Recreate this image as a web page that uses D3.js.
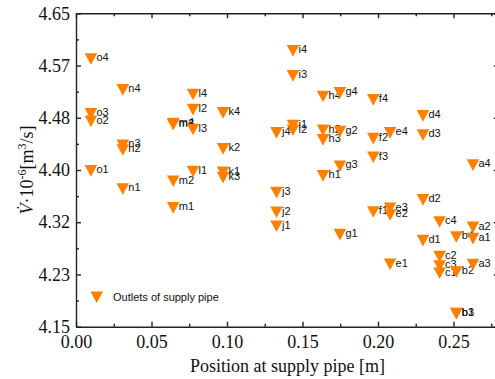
<!DOCTYPE html>
<html>
<head>
<meta charset="utf-8">
<script src="https://cdn.jsdelivr.net/npm/d3@7"></script>
<style>
  html, body { margin: 0; padding: 0; background: #fff; }
  svg { display: block; }
  .axis path, .axis line { stroke: #222; stroke-width: 1.4; }
  .axis text { font-family: "Liberation Serif", "Times New Roman", serif; font-size: 18px; fill: #111; }
  .axis-title { font-family: "Liberation Serif", "Times New Roman", serif; font-size: 18px; fill: #111; }
  .pt-label, .legend text { font-family: "Liberation Sans", Arial, sans-serif; font-size: 11px; fill: #111; }
</style>
</head>
<body>
<div id="chart"></div>
<script>
// ---- Data: one column per supply-pipe position (a..o), outlets 1..4
const pipeIds   = ['a', 'b', 'c', 'd', 'e', 'f', 'g', 'h', 'i', 'j', 'k', 'l', 'm', 'n', 'o'];
const pipePos   = [0.2629, 0.2519, 0.2408, 0.2298, 0.2080, 0.1969, 0.1748, 0.1636, 0.1437, 0.1328, 0.0974, 0.0775, 0.0644, 0.0310, 0.0099];
const outlet1   = [4.2905, 4.1708, 4.2352, 4.2873, 4.2496, 4.3331, 4.2969, 4.3906, 4.4709, 4.3103, 4.3965, 4.3976, 4.3395, 4.3698, 4.3986];
const outlet2   = [4.3087, 4.2373, 4.2618, 4.3523, 4.3283, 4.4501, 4.4613, 4.4635, 4.4635, 4.3326, 4.4337, 4.4964, 4.3821, 4.4320, 4.4776];
const outlet3   = [4.2490, 4.1708, 4.2469, 4.4556, 4.3390, 4.4204, 4.4061, 4.4480, 4.5502, 4.3639, 4.3879, 4.4645, 4.4721, 4.4396, 4.4896];
const outlet4   = [4.4077, 4.2932, 4.3171, 4.4864, 4.4592, 4.5119, 4.5231, 4.5172, 4.5901, 4.4592, 4.4911, 4.5204, 4.4741, 4.5279, 4.5770];

const xTickValues = [0, 0.05, 0.10, 0.15, 0.20, 0.25];
const xMinorTicks = [0.025, 0.075, 0.125, 0.175, 0.225, 0.275];
const yTickLabels = ['4.15', '4.23', '4.32', '4.40', '4.48', '4.57', '4.65'];
const legendLabel = 'Outlets of supply pipe';

const width = 495, height = 379;
const plot = { left: 76, right: 498.8, top: 13.3, bottom: 326.7 };

const svg = d3.select('#chart').append('svg')
    .attr('width', width).attr('height', height);

// ---- Scales
const x = d3.scaleLinear().domain([0, 0.28]).range([plot.left, plot.right]);
const y = d3.scaleLinear().domain([4.15, 4.65]).range([plot.bottom, plot.top]);

const yTickValues = yTickLabels.map((_, i) => 4.15 + i * 0.5 / 6);
const yMinorTicks = yTickValues.slice(1).map((v, i) => (v + yTickValues[i]) / 2);

// ---- Axes (ticks point inward)
const gxB = svg.append('g').attr('class', 'axis')
    .attr('transform', `translate(0,${plot.bottom})`)
    .call(d3.axisBottom(x).tickValues(xTickValues).tickFormat(d3.format('.2f'))
        .tickSizeInner(-5).tickSizeOuter(0).tickPadding(8.3));
svg.append('g').attr('class', 'axis')
    .attr('transform', `translate(0,${plot.bottom})`)
    .call(d3.axisBottom(x).tickValues(xMinorTicks).tickFormat('').tickSizeInner(-3).tickSizeOuter(0))
    .select('.domain').remove();

svg.append('g').attr('class', 'axis')
    .attr('transform', `translate(0,${plot.top})`)
    .call(d3.axisTop(x).tickValues(xTickValues).tickFormat('').tickSizeInner(-5).tickSizeOuter(0));
svg.append('g').attr('class', 'axis')
    .attr('transform', `translate(0,${plot.top})`)
    .call(d3.axisTop(x).tickValues(xMinorTicks).tickFormat('').tickSizeInner(-3).tickSizeOuter(0))
    .select('.domain').remove();

svg.append('g').attr('class', 'axis')
    .attr('transform', `translate(${plot.left},0)`)
    .call(d3.axisLeft(y).tickValues(yTickValues).tickFormat((d, i) => yTickLabels[i])
        .tickSizeInner(-5).tickSizeOuter(0).tickPadding(6));
svg.append('g').attr('class', 'axis')
    .attr('transform', `translate(${plot.left},0)`)
    .call(d3.axisLeft(y).tickValues(yMinorTicks).tickFormat('').tickSizeInner(-3).tickSizeOuter(0))
    .select('.domain').remove();

svg.append('g').attr('class', 'axis')
    .attr('transform', `translate(${plot.right},0)`)
    .call(d3.axisRight(y).tickValues(yTickValues).tickFormat('').tickSizeInner(-5).tickSizeOuter(0));

// ---- Axis titles
svg.append('text').attr('class', 'axis-title')
    .attr('x', (plot.left + plot.right) / 2).attr('y', 372)
    .attr('text-anchor', 'middle')
    .text('Position at supply pipe [m]');

const yTitle = svg.append('text').attr('class', 'axis-title')
    .attr('transform', `translate(33,${(plot.top + plot.bottom) / 2}) rotate(-90)`)
    .attr('text-anchor', 'middle');
yTitle.append('tspan').style('font-style', 'italic').text('V\u0307');
yTitle.append('tspan').text('\u00b710');
yTitle.append('tspan').attr('dy', -7).style('font-size', '12px').text('-6');
yTitle.append('tspan').attr('dy', 7).text('[m');
yTitle.append('tspan').attr('dy', -7).style('font-size', '12px').text('3');
yTitle.append('tspan').attr('dy', 7).text('/s]');

// ---- Marker: downward triangle centred on its box
const markColor = '#ff8000';
function triDown(w, h) {
    const p = d3.path();
    p.moveTo(-w / 2, -h / 2); p.lineTo(w / 2, -h / 2); p.lineTo(0, h / 2); p.closePath();
    return p.toString();
}
const marker = triDown(12.6, 11.6);

// ---- Points (drawn o -> a, each marker followed by its label)
const outlets = [outlet1, outlet2, outlet3, outlet4];
const points = [];
for (let i = pipeIds.length - 1; i >= 0; i--) {
    outlets.forEach((arr, k) => points.push({ id: pipeIds[i] + (k + 1), px: pipePos[i], v: arr[i] }));
}

const pg = svg.append('g').selectAll('g').data(points).join('g')
    .attr('transform', d => `translate(${x(d.px)},${y(d.v)})`);
pg.append('path').attr('d', marker).attr('fill', markColor);
pg.append('text').attr('class', 'pt-label')
    .attr('x', 5.5).attr('y', 2.3)
    .text(d => d.id);

// ---- Legend
const lg = svg.append('g').attr('class', 'legend').attr('transform', 'translate(96.7,297.3)');
lg.append('path').attr('d', marker).attr('fill', markColor);
lg.append('text').attr('x', 16.3).attr('y', 3.6).text(legendLabel);
</script>
</body>
</html>
